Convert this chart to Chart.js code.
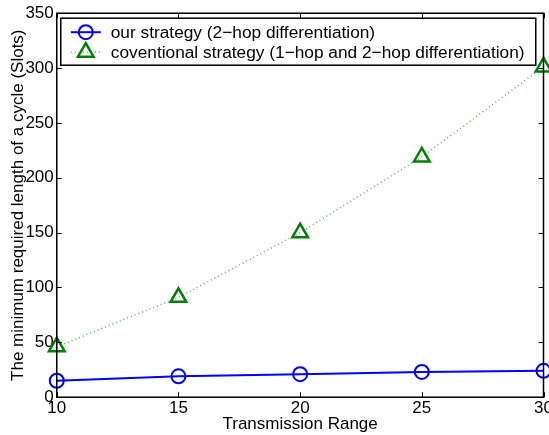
<!DOCTYPE html>
<html>
<head>
<meta charset="utf-8">
<script src="https://cdn.jsdelivr.net/npm/chart.js@4/dist/chart.umd.min.js"></script>
<style>
  html, body { margin: 0; padding: 0; background: #fff; overflow: hidden; }
  #wrap { position: relative; width: 555px; height: 435px; }
</style>
</head>
<body>
<div id="wrap"><canvas id="myChart"></canvas></div>
<script>
// --- data ---
const ranges = [10, 15, 20, 25, 30];
const ourStrategy = [15, 19, 21, 23, 24];
const conventional = [46, 91, 150, 219, 301];
const xTicks = [10, 15, 20, 25, 30];
const yTicks = [0, 50, 100, 150, 200, 250, 300, 350];

const seriesNames = [
  'our strategy (2\u2212hop differentiation)',
  'coventional strategy (1\u2212hop and 2\u2212hop differentiation)'
];

const FONT = '"Liberation Sans", Arial, Helvetica, sans-serif';

// MATLAB style box with inward ticks on all four sides
const boxTicks = {
  id: 'boxTicks',
  afterDraw(chart) {
    const c = chart.ctx, a = chart.chartArea;
    const xs = chart.scales.x, ys = chart.scales.y;
    c.save();
    c.strokeStyle = '#000';
    c.lineWidth = 1;
    c.beginPath();
    xTicks.forEach(v => {
      const px = Math.round(xs.getPixelForValue(v)) + 0.5;
      c.moveTo(px, a.bottom); c.lineTo(px, a.bottom - 5);
      c.moveTo(px, a.top); c.lineTo(px, a.top + 5);
    });
    yTicks.forEach(v => {
      const py = Math.round(ys.getPixelForValue(v)) + 0.5;
      c.moveTo(a.left, py); c.lineTo(a.left + 5, py);
      c.moveTo(a.right, py); c.lineTo(a.right - 5, py);
    });
    c.stroke();
    c.lineWidth = 1.5;
    c.strokeRect(a.left, a.top, a.right - a.left, a.bottom - a.top);
    c.restore();
  }
};

// legend box in top-left corner of plot
const boxLegend = {
  id: 'boxLegend',
  afterDraw(chart) {
    const c = chart.ctx, a = chart.chartArea;
    const x0 = a.left + 4, y0 = a.top + 5, w = 475, h = 47;
    c.save();
    c.fillStyle = '#fff';
    c.fillRect(x0, y0, w, h);
    c.strokeStyle = '#000';
    c.lineWidth = 1.5;
    c.strokeRect(x0, y0, w, h);
    c.font = '17.3px ' + FONT;
    c.textBaseline = 'middle';
    chart.data.datasets.forEach((ds, i) => {
      const ly = y0 + 14 + i * 20;
      c.strokeStyle = ds.borderColor;
      c.lineWidth = ds.borderWidth;
      c.setLineDash(ds.borderDash || []);
      c.beginPath(); c.moveTo(x0 + 10, ly); c.lineTo(x0 + 40, ly); c.stroke();
      c.setLineDash([]);
      c.strokeStyle = ds.pointBorderColor;
      c.lineWidth = ds.pointBorderWidth;
      c.beginPath();
      if (ds.pointStyle === 'triangle') {
        const r = ds.pointRadius;
        c.moveTo(x0 + 25, ly - r);
        c.lineTo(x0 + 25 + r * 0.866, ly + r * 0.5);
        c.lineTo(x0 + 25 - r * 0.866, ly + r * 0.5);
        c.closePath();
      } else {
        c.arc(x0 + 25, ly, ds.pointRadius, 0, Math.PI * 2);
      }
      c.stroke();
      c.fillStyle = '#000';
      c.fillText(ds.label, x0 + 50, ly + 1);
    });
    c.restore();
  }
};

new Chart(document.getElementById('myChart'), {
  type: 'line',
  data: {
    labels: ranges,
    datasets: [{
      label: seriesNames[0],
      data: ranges.map((r, i) => ({ x: r, y: ourStrategy[i] })),
      borderColor: '#0000ff',
      borderWidth: 2,
      pointStyle: 'circle',
      pointRadius: 7,
      pointBorderWidth: 2,
      pointBorderColor: '#0000ff',
      pointBackgroundColor: 'rgba(0,0,0,0)',
      tension: 0
    }, {
      label: seriesNames[1],
      data: ranges.map((r, i) => ({ x: r, y: conventional[i] })),
      borderColor: '#5cb85c',
      borderWidth: 1.5,
      borderDash: [1, 3],
      pointStyle: 'triangle',
      pointRadius: 9,
      pointBorderWidth: 2.5,
      pointBorderColor: '#008000',
      pointBackgroundColor: 'rgba(0,0,0,0)',
      tension: 0
    }]
  },
  options: {
    responsive: true,
    maintainAspectRatio: false,
    animation: false,
    clip: false,
    layout: { padding: { top: 8, right: 0, left: 8, bottom: 0 } },
    plugins: { legend: { display: false }, tooltip: { enabled: false } },
    scales: {
      x: {
        type: 'linear',
        min: 10, max: 30,
        afterBuildTicks: s => { s.ticks = xTicks.map(v => ({ value: v })); },
        grid: { display: false, drawTicks: false },
        border: { display: false },
        ticks: { color: '#000', font: { size: 17, family: FONT }, padding: 1, maxRotation: 0 },
        title: { display: true, text: 'Transmission Range', color: '#000', font: { size: 17, family: FONT }, padding: { top: -5, bottom: 0 } }
      },
      y: {
        min: 0, max: 350,
        afterBuildTicks: s => { s.ticks = yTicks.map(v => ({ value: v })); },
        grid: { display: false, drawTicks: false },
        border: { display: false },
        ticks: { color: '#000', font: { size: 17, family: FONT }, padding: 3 },
        title: { display: true, text: 'The minimum required length of a cycle (Slots)', color: '#000', font: { size: 17, family: FONT }, padding: { top: 0, bottom: -6 } }
      }
    }
  },
  plugins: [boxTicks, boxLegend]
});
</script>
</body>
</html>
